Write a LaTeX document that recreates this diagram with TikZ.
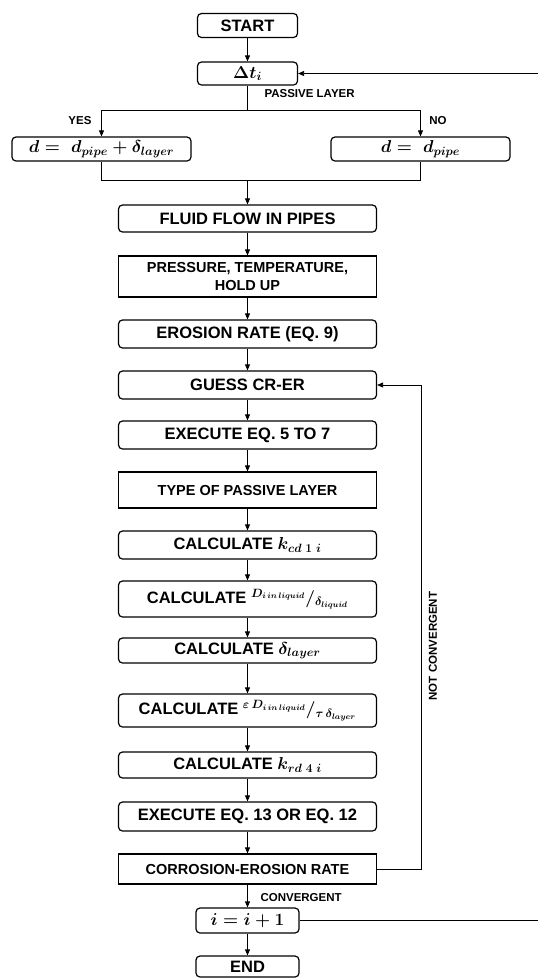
\documentclass[tikz,border=0pt]{standalone}
\usepackage{fontspec}
\setmainfont{Liberation Sans}
\usetikzlibrary{arrows.meta}
\tikzset{flowchart/.style={x=1pt,y=-1pt}}
\tikzset{rbox/.style={draw,rounded corners=4pt,line width=1.2pt,inner sep=0pt,minimum width=258pt,
           font=\fontsize{16.5}{19}\selectfont\bfseries\boldmath},
         sbox/.style={rbox,sharp corners,align=center,font=\fontsize{14.5}{18}\selectfont\bfseries\boldmath},
         lbl/.style={font=\fontsize{11.5}{13}\selectfont\bfseries},
         wire/.style={line width=0.8pt},
         conn/.style={wire,-{Triangle[length=6pt,width=5pt]}}}

\begin{document}
\begin{tikzpicture}[flowchart]
    \useasboundingbox (0,0) rectangle (538,978);
    % top part
    \node[rbox,minimum width=100pt,minimum height=24pt] (start) at (247.5,25.5) {START};
    \node[rbox,minimum width=100pt,minimum height=23pt] (dt) at (247.5,73.5) {$\Delta t_i$};
    \node[rbox,minimum width=179pt,minimum height=24pt] (yes) at (101.5,149) {$d =\; d_{pipe}+\delta_{layer}$};
    \node[rbox,minimum width=179pt,minimum height=24pt] (no) at (420.5,149) {$d =\; d_{pipe}$};
    \coordinate (split) at (247.5,110);
    \coordinate (merge) at (247.5,180);
    \node[lbl,anchor=west] (passive) at (261,94) {PASSIVE LAYER};
    \node[lbl] (yeslbl) at (80,121) {YES};
    \node[lbl] (nolbl) at (438,121) {NO};
    % main column
    \node[rbox,minimum height=27pt] (fluid) at (247.5,218.5) {FLUID FLOW IN PIPES};
    \node[sbox,minimum height=41pt] (press) at (247.5,276.5) {PRESSURE,\ TEMPERATURE,\\HOLD UP};
    \node[rbox,minimum height=28pt] (eros) at (247.5,334) {EROSION RATE (EQ. 9)};
    \node[rbox,minimum height=28pt] (guess) at (247.5,385) {GUESS CR-ER};
    \node[rbox,minimum height=28pt] (exa) at (247.5,435) {EXECUTE EQ. 5 TO 7};
    \node[sbox,minimum height=36pt] (type) at (247.5,490) {TYPE OF PASSIVE\ LAYER};
    \node[rbox,minimum height=28pt] (kcd) at (247.5,545) {CALCULATE $k_{cd\;1\;i}$};
    \node[rbox,minimum height=36pt] (dliq) at (247.5,599)
        {CALCULATE ${}^{D_{i\,in\,liquid}}/_{\delta_{liquid}}$};
    \node[rbox,minimum height=25pt] (dlay) at (247.5,650.5) {CALCULATE $\delta_{layer}$};
    \node[rbox,minimum height=33pt] (epsd) at (247.5,710.5)
        {CALCULATE ${}^{\varepsilon\,D_{i\,in\,liquid}}/_{\tau\,\delta_{layer}}$};
    \node[rbox,minimum height=26pt] (krd) at (247.5,765) {CALCULATE $k_{rd\;4\;i}$};
    \node[rbox,minimum height=29pt] (exb) at (247.5,816.5) {EXECUTE EQ. 13 OR EQ. 12};
    \node[sbox,minimum height=30pt] (rate) at (247.5,869) {CORROSION-EROSION\ RATE};
    \node[rbox,minimum width=103pt,minimum height=25pt] (inc) at (247.5,920.5) {$i = i+1$};
    \node[rbox,minimum width=103pt,minimum height=21pt] (stop) at (247.5,966.5) {END};
    \node[lbl,anchor=west] (conv) at (257,898) {CONVERGENT};
    \node[lbl,rotate=90] (notconv) at (433,646) {NOT CONVERGENT};
    % connectors
    \draw[conn] (start) -- (dt);
    \draw[wire] (dt) -- (split);
    \draw[conn] (split) -| (yes.north);
    \draw[conn] (split) -| (no.north);
    \draw[wire] (yes.south) |- (merge);
    \draw[wire] (no.south) |- (merge);
    \draw[conn] (merge) -- (fluid);
    \foreach \a/\b in {fluid/press,press/eros,eros/guess,guess/exa,exa/type,type/kcd,kcd/dliq,
                       dliq/dlay,dlay/epsd,epsd/krd,krd/exb,exb/rate,rate/inc,inc/stop}
        \draw[conn] (\a) -- (\b);
    % loops
    \coordinate (back) at (421,0);
    \coordinate (edge) at (538,0);
    \draw[conn] (rate.east) -- (rate.east -| back) -- (guess.east -| back) -- (guess.east);
    \draw[wire] (inc.east) -- (inc.east -| edge);
    \draw[conn] (dt.east -| edge) -- (dt.east);
\end{tikzpicture}
\end{document}
